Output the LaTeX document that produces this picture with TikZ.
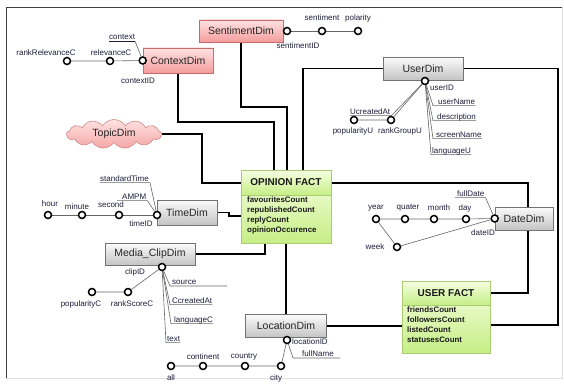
\documentclass[tikz,border=0pt]{standalone}
\usepackage{fontspec}
\setmainfont{Liberation Sans}
\usetikzlibrary{shapes.symbols,calc}
\definecolor{lab}{HTML}{1E1E3A}
\definecolor{greytop}{HTML}{FBFBFB}
\definecolor{greybot}{HTML}{C4C4C4}
\definecolor{pinktop}{HTML}{FFE2E2}
\definecolor{pinkbot}{HTML}{F49C9C}
\definecolor{pinkline}{HTML}{C86A6A}
\definecolor{greentop}{HTML}{F6FFE2}
\definecolor{greenbot}{HTML}{C6EE86}
\definecolor{greenline}{HTML}{A9CB72}
\pgfdeclarelayer{links}
\pgfsetlayers{links,main}
% underlined attribute: connector from the key circle to the left end of the underline
\newcommand\ulink[3]{\draw[thinln] (#1) -- ($(#2.base west)+(-#3,1.6)$) -- ($(#2.base east)+(0,1.6)$);}
% underlined attribute: connector from the key circle to the right end of the underline
\newcommand\rlink[3]{\draw[thinln] ($(#2.base west)+(-#3,1.6)$) -- ($(#2.base east)+(1,1.6)$) -- (#1);}
\begin{document}
\begin{tikzpicture}[x=1pt,y=-1pt,
  link/.style={line width=1.7pt, black},
  thinln/.style={line width=0.6pt, black!60},
  dimbox/.style={draw=black!55, line width=0.6pt, top color=greytop, bottom color=greybot,
    inner sep=0, font=\fontsize{10.5}{12}\selectfont, text=black!85},
  pinkbox/.style={dimbox, draw=pinkline, top color=pinktop, bottom color=pinkbot},
  factpart/.style={draw=greenline, line width=0.6pt, top color=greentop, bottom color=greenbot, inner sep=0},
  facthead/.style={font=\bfseries\fontsize{10}{12}\selectfont, text=black!90, inner sep=0},
  factbody/.style={font=\bfseries\fontsize{7.9}{10}\selectfont, text=black!90, inner sep=0, align=left, anchor=north west},
  att/.style={circle, draw=black, line width=1.5pt, fill=white, minimum size=7, inner sep=0},
  lbl/.style={font=\fontsize{8}{9}\selectfont, text=lab, inner sep=0},
  ulbl/.style={lbl, anchor=base west},
]
\useasboundingbox (0,0) rectangle (564,385);
\begin{pgfonlayer}{links}
\fill[white] (0,0) rectangle (564,385);
% outer frame
\draw[black!12, line width=0.8] (562,7) -- (562,378) -- (6,378);
\draw[black!75, line width=0.9] (6,378) -- (6,7) -- (562,7);
\end{pgfonlayer}

% ---------- dimension boxes ----------
\node[pinkbox, minimum width=84, minimum height=22] (sent) at (241,31) {SentimentDim};
\node[pinkbox, minimum width=70, minimum height=25] (ctx) at (178,60.5) {ContextDim};
\node[dimbox, minimum width=80, minimum height=23] (user) at (423,68.5) {UserDim};
\node[dimbox, minimum width=60, minimum height=25] (time) at (187,212.5) {TimeDim};
\node[dimbox, minimum width=90, minimum height=22] (media) at (150,254) {Media\_ClipDim};
\node[dimbox, minimum width=81, minimum height=23] (loc) at (286,326) {LocationDim};
\node[dimbox, minimum width=58, minimum height=23] (date) at (524,218.5) {DateDim};
\node[cloud, cloud puffs=13, cloud puff arc=115, aspect=3.4, draw=pinkline!80, line width=0.6pt,
  top color=pinktop, bottom color=pinkbot!90, minimum width=95, minimum height=29,
  inner sep=0, font=\fontsize{10.5}{12}\selectfont, text=black!85] (topic) at (114,134) {TopicDim};

% ---------- fact tables ----------
\node[factpart, minimum width=90, minimum height=73] (opinion) at (286,206.5) {};
\node[factpart, minimum width=90, minimum height=25, anchor=north] (opinionhd) at (opinion.north) {};
\node[facthead] (opiniont) at (opinionhd.center) {OPINION FACT};
\node[factbody] (opinionb) at (247,197) {favouritesCount\\republishedCount\\replyCount\\opinionOccurence};

\node[factpart, minimum width=88, minimum height=72] (ufact) at (446,317) {};
\node[factpart, minimum width=88, minimum height=24, anchor=north] (ufacthd) at (ufact.north) {};
\node[facthead] (ufactt) at (ufacthd.center) {USER FACT};
\node[factbody] (ufactb) at (407,307) {friendsCount\\followersCount\\listedCount\\statusesCount};

% ---------- links between fact tables and dimensions ----------
\coordinate (c1) at (274,122);
\coordinate (c2) at (287,107);
\coordinate (c3) at (303,0);
\coordinate (c4) at (558,325);
\coordinate (c5) at (202,183);
\coordinate (c6) at (229,216);
\coordinate (c7) at (528,183);
\coordinate (c8) at (528,293);
\coordinate (c10) at (265,0);
\begin{pgfonlayer}{links}
\draw[link] (ctx.south) |- (c1) -- (c1 |- opinion.north);
\draw[link] (sent.south) |- (c2) -- (c2 |- opinion.north);
\draw[link] (user.west) -| (c3 |- opinion.north);
\draw[link] (user.east) -| (c4) -- (c4 -| ufact.east);
\draw[link] (topic.east) -| (c5) -- (c5 -| opinion.west);
\draw[link] (time.east) -| (c6) -- (c6 -| opinion.west);
\draw[link] (c7 -| opinion.east) -- (c7) -- (c7 |- date.north);
\draw[link] (c8 |- date.south) -- (c8) -- (c8 -| ufact.east);
\draw[link] (opinion.south) -- (loc.north);
\draw[link] (loc.east) -- (loc.east -| ufact.west);
\draw[link] (media.east) -| (c10 |- opinion.south);
\end{pgfonlayer}

% ---------- SentimentDim attributes ----------
\node[att] (sentid) at (287,31) {};
\node[att] (sentm) at (322,31) {};
\node[att] (pol) at (358,31) {};
\node[lbl] (sentidl) at (298,46) {sentimentID};
\node[lbl] (sentml) at (322,18) {sentiment};
\node[lbl] (poll) at (358,18) {polarity};
\begin{pgfonlayer}{links}
\draw[thinln] (sentid) -- (sentm) -- (pol);
\end{pgfonlayer}

% ---------- ContextDim attributes ----------
\node[att] (ctxid) at (ctx.west) {};
\node[att] (rel) at (110,61) {};
\node[att] (rrel) at (67,61) {};
\node[lbl] (rrell) at (46,53) {rankRelevanceC};
\node[lbl] (rell) at (111,53) {relevanceC};
\node[lbl] (ctxidl) at (138,81) {contextID};
\node[ulbl] (ctxl) at (109,40) {\underline{context}};
\begin{pgfonlayer}{links}
\draw[thinln] (rrel) -- (rel) -- (ctxid);
\draw[thinln] (ctxl.base east) ++(0,1.6) -- (ctxid);
\end{pgfonlayer}

% ---------- UserDim attributes ----------
\node[att] (uid) at (425,81) {};
\node[att] (rgu) at (391,120) {};
\node[att] (popu) at (354,120) {};
\node[lbl] (uidl) at (442,88) {userID};
\node[lbl] (popul) at (353,131) {popularityU};
\node[lbl] (rgul) at (400,131) {rankGroupU};
\node[ulbl] (ucr) at (350,114) {UcreatedAt};
\node[ulbl] (uname) at (438,104) {userName};
\node[ulbl] (udesc) at (437,119) {description};
\node[ulbl] (uscr) at (436,137) {screenName};
\node[ulbl] (ulang) at (432,153) {languageU};
\begin{pgfonlayer}{links}
\draw[thinln] (popu) -- (rgu) -- (uid);
\rlink{uid}{ucr}{0}
\ulink{uid}{uname}{5}
\ulink{uid}{udesc}{4}
\ulink{uid}{uscr}{3}
\ulink{uid}{ulang}{1}
\end{pgfonlayer}

% ---------- TimeDim attributes ----------
\node[att] (tid) at (157,215) {};
\node[att] (sec) at (119,215) {};
\node[att] (mnt) at (82,215) {};
\node[att] (hr) at (48,215) {};
\node[lbl] (hrl) at (50,204) {hour};
\node[lbl] (mntl) at (77,207) {minute};
\node[lbl] (secl) at (111,205) {second};
\node[lbl] (tidl) at (141,224) {timeID};
\node[ulbl] (stdt) at (100,181) {standardTime};
\node[ulbl] (ampm) at (122,199) {AMPM};
\begin{pgfonlayer}{links}
\draw[thinln] (hr) -- (mnt) -- (sec) -- (tid);
\rlink{tid}{stdt}{0}
\rlink{tid}{ampm}{5}
\end{pgfonlayer}

% ---------- Media_ClipDim attributes ----------
\node[att] (clipid) at (162,267) {};
\node[att] (rsc) at (128,292) {};
\node[att] (popc) at (92,292) {};
\node[lbl] (clipidl) at (135,272) {clipID};
\node[lbl] (popcl) at (81,304) {popularityC};
\node[lbl] (rscl) at (132,304) {rankScoreC};
\node[ulbl] (src) at (172,284) {source};
\node[ulbl] (ccr) at (172,303) {CcreatedAt};
\node[ulbl] (clang) at (174,322) {languageC};
\node[ulbl] (ctext) at (167,341) {text};
\coordinate (srcend) at (227,286);
\begin{pgfonlayer}{links}
\draw[thinln] (popc) -- (rsc) -- (clipid);
\draw[thinln] (clipid) -- ($(src.base west)+(-2,2)$) -- (srcend);
\ulink{clipid}{ccr}{2}
\ulink{clipid}{clang}{3}
\ulink{clipid}{ctext}{1}
\end{pgfonlayer}

% ---------- DateDim attributes ----------
\node[att] (did) at (date.west) {};
\node[att] (day) at (466,219) {};
\node[att] (month) at (434,219) {};
\node[att] (quat) at (405,219) {};
\node[att] (year) at (376,219) {};
\node[att] (week) at (397,247) {};
\node[lbl] (yearl) at (376,208) {year};
\node[lbl] (quatl) at (408,208) {quater};
\node[lbl] (monthl) at (439,208) {month};
\node[lbl] (dayl) at (465,208) {day};
\node[lbl] (didl) at (483,233) {dateID};
\node[lbl] (weekl) at (375,247) {week};
\node[ulbl] (fdate) at (457,196) {fullDate};
\begin{pgfonlayer}{links}
\draw[thinln] (year) -- (quat) -- (month) -- (day) -- (did);
\draw[thinln] (year) -- (week) -- (did);
\rlink{did}{fdate}{2}
\end{pgfonlayer}

% ---------- LocationDim attributes ----------
\node[att] (locid) at (287,340) {};
\node[att] (city) at (281,366) {};
\node[att] (ctry) at (245,366) {};
\node[att] (cont) at (203,366) {};
\node[att] (all) at (171,366) {};
\node[lbl, anchor=west] (locidl) at (292,342) {locationID};
\node[ulbl] (fname) at (302,356) {fullName};
\node[lbl] (contl) at (203,357) {continent};
\node[lbl] (ctryl) at (244,357) {country};
\node[lbl] (alll) at (171,378) {all};
\node[lbl] (cityl) at (276,378) {city};
\coordinate (fnameend) at (340,358);
\begin{pgfonlayer}{links}
\draw[thinln] (all) -- (cont) -- (ctry) -- (city) -- (locid);
\draw[thinln] (locid) -- ($(fname.base west)+(-9,2)$) -- (fnameend);
\end{pgfonlayer}
\end{tikzpicture}
\end{document}
